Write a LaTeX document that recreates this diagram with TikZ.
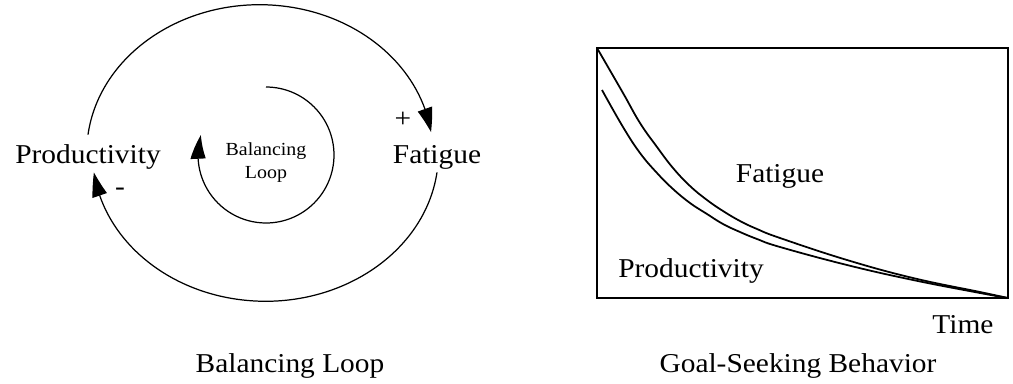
\documentclass[tikz,border=0pt]{standalone}
\usepackage{fontspec}
\setmainfont{Liberation Serif}[FakeStretch=1.08]
\usetikzlibrary{arrows.meta,bending}

\begin{document}
\begin{tikzpicture}[x=0.02cm, y=-0.02cm,
    var/.style={font=\fontsize{15.5}{18}\selectfont, anchor=base, inner ysep=0pt,
                text height=0.56cm, text depth=0.18cm},
    lbl/.style={font=\fontsize{15.5}{18}\selectfont, anchor=base, inner sep=0pt},
    sgn/.style={font=\fontsize{15.5}{18}\selectfont, inner sep=0pt},
    loopname/.style={font=\fontsize{10.5}{13}\selectfont, align=center, inner sep=0pt},
    arr/.style={-{Triangle[length=0.48cm, width=0.3cm, bend]}, line width=0.7pt},
    curve/.style={line width=1pt},
  ]
    \useasboundingbox (0,0) rectangle (1013,383);

    % Balancing loop
    \node[var] (prod) at (88,163)  {Productivity};
    \node[var] (fat)  at (437,163) {Fatigue};
    \draw[arr] (prod.north) arc[start angle=173, end angle=8, x radius=3.46cm, y radius=2.96cm];
    \draw[arr] (fat.south) arc[start angle=-7.4, end angle=-172.6, x radius=3.46cm, y radius=2.96cm];
    \node[sgn] (plus)  at (403,120) {+};
    \node[sgn] (minus) at (120,192) {-};

    \coordinate (lc) at (266,155);
    \node[loopname] (lname) at (266,162.5) {Balancing\\Loop};
    \draw[arr] (lc) ++(90:1.36cm) arc[start angle=90, end angle=-197, radius=1.36cm];

    \node[lbl] (ltitle) at (290,372) {Balancing Loop};

    % Goal-seeking behavior
    \draw[line width=1.1pt] (597,48) rectangle (1008,298);
    \draw[curve] plot[smooth, tension=0.7] coordinates {(597,48) (623,93) (640,123)
        (657,147) (673,168) (690,186) (707,200) (723,211) (740,221) (757,229)
        (780,238) (847,260) (913,278) (980,292) (1008,298)};
    \draw[curve] plot[smooth, tension=0.7] coordinates {(602,90) (623,127) (640,153)
        (657,173) (673,189) (690,203) (707,214) (723,224) (740,232) (757,239)
        (780,247) (847,265) (913,280) (980,293) (1008,298)};

    \node[lbl] (gfat)   at (780,182) {Fatigue};
    \node[lbl] (gprod)  at (691,277) {Productivity};
    \node[lbl] (time)   at (963,333) {Time};
    \node[lbl] (rtitle) at (798,372) {Goal-Seeking Behavior};
  \end{tikzpicture}
\end{document}
